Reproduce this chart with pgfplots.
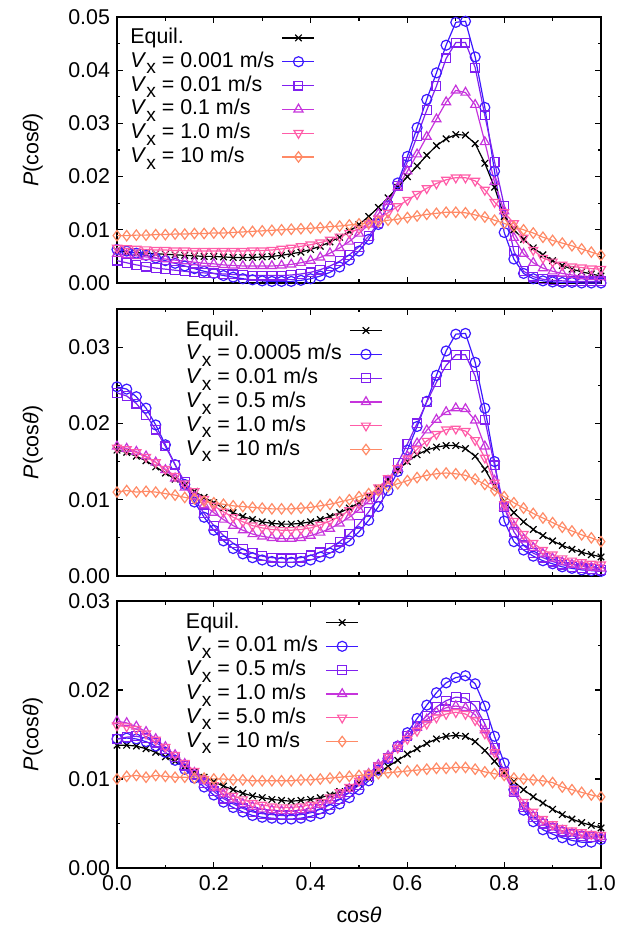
\documentclass[border=0pt]{standalone}
\usepackage{fontspec}
\setmainfont{Liberation Sans}
\usepackage{pgfplots}
\usepackage{pgfplotstable}
\pgfplotsset{compat=1.18}

\definecolor{c1}{RGB}{60,25,255}
\definecolor{c2}{RGB}{128,32,240}
\definecolor{c3}{RGB}{198,52,220}
\definecolor{c4}{RGB}{255,92,168}
\definecolor{c5}{RGB}{255,138,102}

\newcommand{\fs}{\fontsize{10.7}{12}\selectfont}
\newcommand{\Vx}{\textit{V}\raisebox{-0.6ex}{\fontsize{9.6}{9.6}\selectfont x}}

% top: Vx = 0.001, 0.01, 0.1, 1.0, 10
\pgfplotstableread{
x eq a b c d e
0.00 0.0060 0.0063 0.0042 0.0055 0.0066 0.0089
0.02 0.0058 0.0060 0.0038 0.0053 0.0065 0.0089
0.04 0.0057 0.0056 0.0034 0.0051 0.0064 0.0090
0.06 0.0056 0.0052 0.0031 0.0049 0.0063 0.0090
0.08 0.0055 0.0047 0.0028 0.0047 0.0062 0.0091
0.10 0.0054 0.0042 0.0026 0.0045 0.0062 0.0091
0.12 0.0053 0.0037 0.0024 0.0043 0.0061 0.0092
0.14 0.0052 0.0032 0.0022 0.0041 0.0061 0.0092
0.16 0.0051 0.0027 0.0020 0.0039 0.0060 0.0093
0.18 0.0050 0.0022 0.0019 0.0037 0.0060 0.0093
0.20 0.0050 0.0018 0.0018 0.0036 0.0060 0.0094
0.22 0.0049 0.0014 0.0017 0.0034 0.0060 0.0094
0.24 0.0048 0.0011 0.0016 0.0033 0.0060 0.0095
0.26 0.0048 0.0008 0.0015 0.0032 0.0060 0.0096
0.28 0.0048 0.0006 0.0014 0.0032 0.0061 0.0097
0.30 0.0049 0.0004 0.0014 0.0032 0.0061 0.0098
0.32 0.0050 0.0003 0.0014 0.0032 0.0062 0.0099
0.34 0.0052 0.0003 0.0014 0.0033 0.0064 0.0100
0.36 0.0055 0.0003 0.0015 0.0035 0.0066 0.0101
0.38 0.0058 0.0005 0.0017 0.0038 0.0069 0.0102
0.40 0.0063 0.0008 0.0020 0.0042 0.0072 0.0103
0.42 0.0069 0.0013 0.0025 0.0048 0.0076 0.0104
0.44 0.0077 0.0020 0.0032 0.0056 0.0081 0.0106
0.46 0.0086 0.0030 0.0041 0.0066 0.0087 0.0107
0.48 0.0097 0.0043 0.0053 0.0078 0.0094 0.0109
0.50 0.0110 0.0060 0.0068 0.0093 0.0102 0.0111
0.52 0.0125 0.0082 0.0088 0.0110 0.0111 0.0113
0.54 0.0142 0.0110 0.0113 0.0130 0.0121 0.0115
0.56 0.0160 0.0145 0.0145 0.0153 0.0132 0.0118
0.58 0.0180 0.0188 0.0183 0.0180 0.0144 0.0120
0.60 0.0200 0.0238 0.0228 0.0210 0.0156 0.0123
0.62 0.0220 0.0292 0.0276 0.0242 0.0167 0.0126
0.64 0.0240 0.0345 0.0325 0.0275 0.0178 0.0129
0.66 0.0258 0.0395 0.0370 0.0308 0.0187 0.0131
0.68 0.0271 0.0447 0.0422 0.0340 0.0194 0.0133
0.70 0.0279 0.0490 0.0452 0.0362 0.0198 0.0133
0.72 0.0278 0.0492 0.0452 0.0358 0.0198 0.0132
0.74 0.0262 0.0425 0.0405 0.0335 0.0192 0.0128
0.76 0.0225 0.0330 0.0315 0.0265 0.0175 0.0124
0.78 0.0180 0.0210 0.0228 0.0190 0.0152 0.0118
0.80 0.0125 0.0095 0.0145 0.0135 0.0133 0.0112
0.82 0.0100 0.0045 0.0060 0.0085 0.0112 0.0106
0.84 0.0082 0.0018 0.0022 0.0055 0.0085 0.0100
0.86 0.0066 0.0008 0.0012 0.0038 0.0062 0.0094
0.88 0.0053 0.0004 0.0007 0.0028 0.0047 0.0086
0.90 0.0042 0.0002 0.0005 0.0022 0.0040 0.0080
0.92 0.0033 0.0001 0.0004 0.0018 0.0034 0.0075
0.94 0.0026 0.0001 0.0003 0.0015 0.0031 0.0070
0.96 0.0021 0.0000 0.0003 0.0013 0.0029 0.0064
0.98 0.0017 0.0000 0.0003 0.0012 0.0027 0.0058
1.00 0.0013 0.0000 0.0003 0.0011 0.0026 0.0052
}\topdata

% middle: Vx = 0.0005, 0.01, 0.5, 1.0, 10
\pgfplotstableread{
x eq a b c d e
0.00 0.0165 0.0248 0.0240 0.0170 0.0168 0.0110
0.02 0.0162 0.0245 0.0236 0.0167 0.0166 0.0112
0.04 0.0157 0.0235 0.0226 0.0163 0.0162 0.0110
0.06 0.0151 0.0220 0.0211 0.0157 0.0156 0.0111
0.08 0.0143 0.0198 0.0192 0.0149 0.0149 0.0110
0.10 0.0135 0.0172 0.0170 0.0139 0.0140 0.0108
0.12 0.0127 0.0146 0.0146 0.0128 0.0131 0.0106
0.14 0.0119 0.0120 0.0123 0.0116 0.0121 0.0103
0.16 0.0111 0.0097 0.0101 0.0104 0.0111 0.0101
0.18 0.0103 0.0077 0.0082 0.0093 0.0101 0.0098
0.20 0.0096 0.0060 0.0066 0.0083 0.0092 0.0096
0.22 0.0089 0.0046 0.0053 0.0074 0.0084 0.0094
0.24 0.0083 0.0036 0.0043 0.0066 0.0077 0.0092
0.26 0.0078 0.0029 0.0035 0.0060 0.0071 0.0091
0.28 0.0074 0.0024 0.0030 0.0055 0.0066 0.0090
0.30 0.0071 0.0021 0.0026 0.0052 0.0063 0.0089
0.32 0.0069 0.0019 0.0024 0.0050 0.0061 0.0088
0.34 0.0068 0.0018 0.0023 0.0049 0.0060 0.0088
0.36 0.0068 0.0018 0.0023 0.0049 0.0060 0.0088
0.38 0.0069 0.0019 0.0024 0.0050 0.0061 0.0089
0.40 0.0071 0.0021 0.0027 0.0053 0.0063 0.0090
0.42 0.0074 0.0025 0.0031 0.0057 0.0067 0.0092
0.44 0.0078 0.0030 0.0037 0.0062 0.0072 0.0094
0.46 0.0083 0.0037 0.0045 0.0069 0.0078 0.0097
0.48 0.0089 0.0046 0.0055 0.0077 0.0086 0.0100
0.50 0.0096 0.0058 0.0068 0.0087 0.0095 0.0104
0.52 0.0105 0.0073 0.0084 0.0098 0.0105 0.0108
0.54 0.0115 0.0091 0.0103 0.0111 0.0116 0.0112
0.56 0.0127 0.0112 0.0124 0.0125 0.0128 0.0117
0.58 0.0139 0.0137 0.0148 0.0141 0.0141 0.0121
0.60 0.0150 0.0165 0.0173 0.0157 0.0154 0.0125
0.62 0.0159 0.0196 0.0200 0.0174 0.0166 0.0129
0.64 0.0165 0.0229 0.0228 0.0191 0.0177 0.0132
0.66 0.0169 0.0263 0.0254 0.0205 0.0186 0.0134
0.68 0.0171 0.0295 0.0276 0.0215 0.0192 0.0135
0.70 0.0171 0.0317 0.0290 0.0220 0.0193 0.0134
0.72 0.0167 0.0318 0.0290 0.0219 0.0190 0.0132
0.74 0.0157 0.0280 0.0262 0.0204 0.0178 0.0127
0.76 0.0140 0.0220 0.0205 0.0170 0.0155 0.0120
0.78 0.0118 0.0150 0.0145 0.0125 0.0122 0.0112
0.80 0.0098 0.0072 0.0090 0.0090 0.0094 0.0104
0.82 0.0083 0.0045 0.0058 0.0065 0.0072 0.0096
0.84 0.0071 0.0034 0.0040 0.0048 0.0055 0.0089
0.86 0.0061 0.0026 0.0030 0.0037 0.0043 0.0082
0.88 0.0053 0.0020 0.0024 0.0029 0.0034 0.0076
0.90 0.0046 0.0016 0.0019 0.0023 0.0028 0.0070
0.92 0.0040 0.0012 0.0015 0.0018 0.0023 0.0064
0.94 0.0035 0.0010 0.0012 0.0015 0.0020 0.0059
0.96 0.0031 0.0008 0.0010 0.0013 0.0018 0.0054
0.98 0.0028 0.0007 0.0009 0.0011 0.0016 0.0050
1.00 0.0025 0.0006 0.0008 0.0010 0.0015 0.0045
}\middata

% bottom: Vx = 0.01, 0.5, 1.0, 5.0, 10
\pgfplotstableread{
x eq a b c d e
0.00 0.0138 0.0145 0.0145 0.0165 0.0160 0.0100
0.02 0.0138 0.0146 0.0147 0.0163 0.0159 0.0103
0.04 0.0137 0.0145 0.0148 0.0159 0.0156 0.0104
0.06 0.0134 0.0142 0.0146 0.0153 0.0151 0.0102
0.08 0.0130 0.0137 0.0141 0.0145 0.0144 0.0104
0.10 0.0125 0.0130 0.0134 0.0136 0.0136 0.0103
0.12 0.0120 0.0121 0.0125 0.0127 0.0127 0.0102
0.14 0.0114 0.0111 0.0115 0.0117 0.0118 0.0102
0.16 0.0108 0.0101 0.0105 0.0107 0.0109 0.0101
0.18 0.0102 0.0091 0.0095 0.0098 0.0100 0.0101
0.20 0.0097 0.0082 0.0086 0.0090 0.0093 0.0100
0.22 0.0092 0.0074 0.0078 0.0083 0.0086 0.0100
0.24 0.0088 0.0068 0.0072 0.0077 0.0081 0.0099
0.26 0.0084 0.0063 0.0067 0.0072 0.0077 0.0099
0.28 0.0081 0.0059 0.0063 0.0069 0.0073 0.0098
0.30 0.0079 0.0057 0.0061 0.0066 0.0071 0.0098
0.32 0.0077 0.0056 0.0060 0.0065 0.0069 0.0098
0.34 0.0076 0.0055 0.0059 0.0064 0.0068 0.0098
0.36 0.0075 0.0055 0.0059 0.0064 0.0068 0.0098
0.38 0.0076 0.0056 0.0060 0.0065 0.0069 0.0099
0.40 0.0077 0.0058 0.0062 0.0067 0.0071 0.0099
0.42 0.0079 0.0061 0.0066 0.0071 0.0074 0.0100
0.44 0.0082 0.0066 0.0071 0.0076 0.0079 0.0101
0.46 0.0086 0.0072 0.0077 0.0082 0.0085 0.0102
0.48 0.0090 0.0079 0.0085 0.0089 0.0091 0.0103
0.50 0.0095 0.0088 0.0093 0.0097 0.0098 0.0104
0.52 0.0101 0.0098 0.0103 0.0106 0.0106 0.0105
0.54 0.0107 0.0110 0.0113 0.0116 0.0115 0.0106
0.56 0.0114 0.0123 0.0124 0.0126 0.0125 0.0107
0.58 0.0121 0.0137 0.0136 0.0137 0.0135 0.0108
0.60 0.0128 0.0152 0.0148 0.0148 0.0145 0.0109
0.62 0.0134 0.0168 0.0160 0.0158 0.0154 0.0110
0.64 0.0140 0.0183 0.0171 0.0167 0.0162 0.0111
0.66 0.0145 0.0197 0.0181 0.0175 0.0169 0.0112
0.68 0.0148 0.0208 0.0188 0.0180 0.0173 0.0112
0.70 0.0149 0.0214 0.0192 0.0182 0.0175 0.0113
0.72 0.0148 0.0216 0.0191 0.0180 0.0173 0.0113
0.74 0.0142 0.0207 0.0182 0.0172 0.0166 0.0111
0.76 0.0132 0.0182 0.0162 0.0155 0.0151 0.0108
0.78 0.0120 0.0148 0.0135 0.0131 0.0130 0.0106
0.80 0.0107 0.0118 0.0108 0.0106 0.0108 0.0104
0.82 0.0097 0.0088 0.0085 0.0085 0.0089 0.0101
0.84 0.0088 0.0065 0.0068 0.0069 0.0074 0.0100
0.86 0.0080 0.0052 0.0057 0.0058 0.0063 0.0099
0.88 0.0073 0.0043 0.0050 0.0051 0.0055 0.0098
0.90 0.0066 0.0038 0.0045 0.0046 0.0049 0.0096
0.92 0.0060 0.0034 0.0041 0.0042 0.0045 0.0091
0.94 0.0055 0.0031 0.0038 0.0039 0.0042 0.0088
0.96 0.0051 0.0029 0.0036 0.0037 0.0040 0.0085
0.98 0.0048 0.0029 0.0035 0.0036 0.0038 0.0082
1.00 0.0045 0.0032 0.0035 0.0035 0.0037 0.0080
}\botdata

\pgfplotsset{
  panel/.style={
    scale only axis, width=242pt, height=133.5pt,
    xmin=0, xmax=1, xtick={0,0.2,0.4,0.6,0.8,1},
    minor x tick num=1, minor y tick num=1,
    tick align=inside, tick pos=both,
    axis line style={line width=0.65pt},
    every tick/.style={black, line width=0.6pt},
    major tick length=3pt, minor tick length=1.75pt,
    clip=false, scaled y ticks=false,
    tick label style={font=\fs},
    yticklabel style={/pgf/number format/fixed, /pgf/number format/fixed zerofill,
      /pgf/number format/precision=2, /pgf/number format/assume math mode=true},
    xticklabel style={/pgf/number format/fixed, /pgf/number format/fixed zerofill,
      /pgf/number format/precision=1, /pgf/number format/assume math mode=true},
    ylabel={\textit{P}(cos\textit{θ})},
    ylabel style={at={(axis description cs:-0.174,0.5)}, anchor=center, font=\fs},
    legend cell align=left, legend plot pos=right,
    legend style={draw=none, fill=none, inner sep=0pt, font=\fs, row sep=0pt,
      column sep=3pt,
      nodes={inner sep=0.8pt, text height=7.9pt, text depth=2.4pt},
      at={(axis description cs:0,1)}, anchor=north west},
    legend image code/.code={\draw[mark repeat=2, mark phase=2]
      plot coordinates {(0pt,0pt) (8pt,0pt) (16pt,0pt)};},
  },
  s0/.style={black, line width=0.6pt, mark=x, mark size=2.3pt},
  s1/.style={c1, line width=0.6pt, mark=o, mark size=2.5pt},
  s2/.style={c2, line width=0.6pt, mark=square, mark size=2.2pt},
  s3/.style={c3, line width=0.6pt, mark=triangle, mark size=2.6pt},
  s4/.style={c4, line width=0.6pt, mark=triangle, mark size=2.6pt, every mark/.append style={rotate=180}},
  s5/.style={c5, line width=0.6pt, mark=diamond, mark size=2.6pt},
}

\begin{document}
\begin{tikzpicture}
\path[use as bounding box] (-58.5pt,-32.5pt) rectangle (260pt,434pt);

\begin{axis}[panel, at={(0pt,292.5pt)}, anchor=south west, height=133pt,
  ymin=0, ymax=0.05, ytick={0,0.01,0.02,0.03,0.04,0.05}, xticklabels={},
  legend style={xshift=5.7pt, yshift=-4.3pt}]
\addplot[s0] table[x=x, y=eq] {\topdata};
\addplot[s1] table[x=x, y=a] {\topdata};
\addplot[s2] table[x=x, y=b] {\topdata};
\addplot[s3] table[x=x, y=c] {\topdata};
\addplot[s4] table[x=x, y=d] {\topdata};
\addplot[s5] table[x=x, y=e] {\topdata};
\legend{Equil., \Vx{} = 0.001 m/s, \Vx{} = 0.01 m/s, \Vx{} = 0.1 m/s, \Vx{} = 1.0 m/s, \Vx{} = 10 m/s}
\end{axis}

\begin{axis}[panel, at={(0pt,146pt)}, anchor=south west,
  ymin=0, ymax=0.035, ytick={0,0.01,0.02,0.03}, xticklabels={},
  legend style={xshift=33.5pt, yshift=-4.6pt}]
\addplot[s0] table[x=x, y=eq] {\middata};
\addplot[s1] table[x=x, y=a] {\middata};
\addplot[s2] table[x=x, y=b] {\middata};
\addplot[s3] table[x=x, y=c] {\middata};
\addplot[s4] table[x=x, y=d] {\middata};
\addplot[s5] table[x=x, y=e] {\middata};
\legend{Equil., \Vx{} = 0.0005 m/s, \Vx{} = 0.01 m/s, \Vx{} = 0.5 m/s, \Vx{} = 1.0 m/s, \Vx{} = 10 m/s}
\end{axis}

\begin{axis}[panel, at={(0pt,0pt)}, anchor=south west,
  ymin=0, ymax=0.03, ytick={0,0.01,0.02,0.03},
  xlabel={cos\textit{θ}},
  xlabel style={at={(axis description cs:0.5,-0.176)}, anchor=center, font=\fs},
  legend style={xshift=33.5pt, yshift=-4.6pt}]
\addplot[s0] table[x=x, y=eq] {\botdata};
\addplot[s1] table[x=x, y=a] {\botdata};
\addplot[s2] table[x=x, y=b] {\botdata};
\addplot[s3] table[x=x, y=c] {\botdata};
\addplot[s4] table[x=x, y=d] {\botdata};
\addplot[s5] table[x=x, y=e] {\botdata};
\legend{Equil., \Vx{} = 0.01 m/s, \Vx{} = 0.5 m/s, \Vx{} = 1.0 m/s, \Vx{} = 5.0 m/s, \Vx{} = 10 m/s}
\end{axis}
\end{tikzpicture}
\end{document}
